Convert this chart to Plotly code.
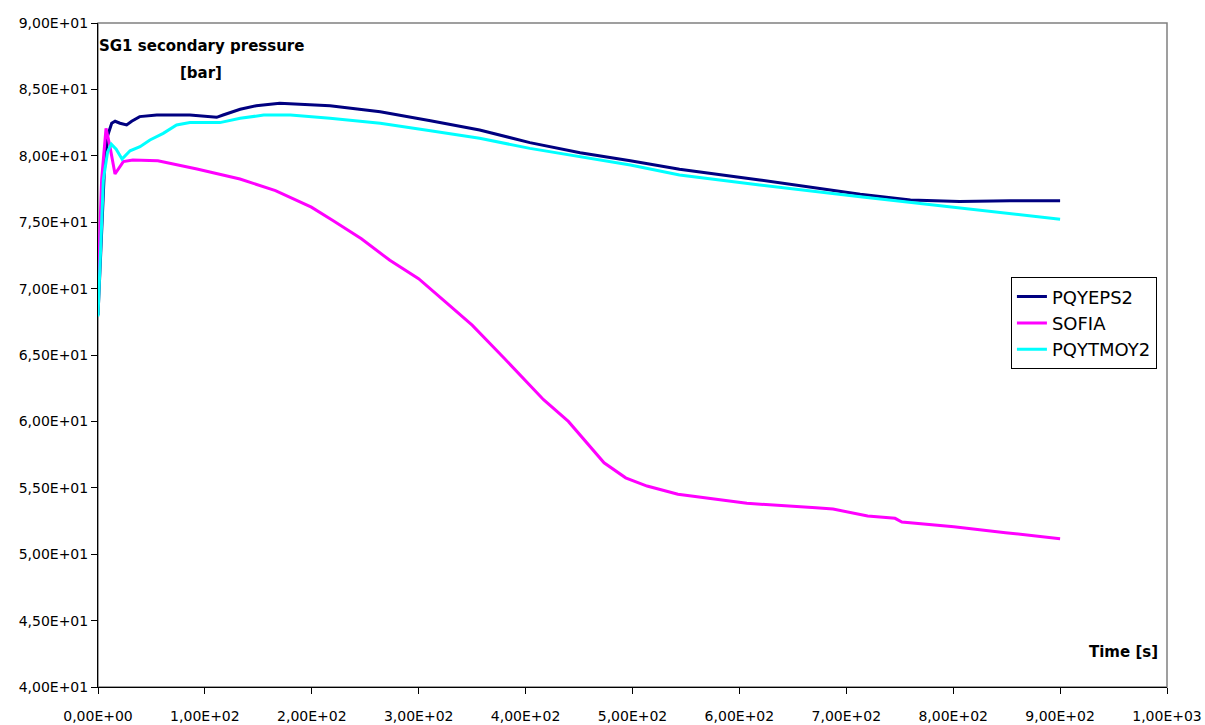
import plotly.graph_objects as go

# ---- data ----
t_pqyeps2 = [0, 3, 6, 9, 12.8, 16, 20.6, 26.8, 31.5, 39, 55, 86, 111, 117, 133, 148, 170,
             217, 264, 311, 357, 404, 451, 498, 544, 619, 713, 760, 806, 853, 900]
v_pqyeps2 = [68.0, 74.0, 79.0, 81.5, 82.45, 82.6, 82.45, 82.32, 82.6, 82.95, 83.07, 83.07, 82.9,
             83.07, 83.5, 83.77, 83.95, 83.77, 83.32, 82.64, 81.94, 80.99, 80.23, 79.63,
             78.98, 78.18, 77.1, 76.67, 76.55, 76.62, 76.62]

t_sofia = [0, 3.4, 7.5, 11.2, 15.9, 23.7, 32.6, 56, 92.6, 132.8, 166, 199.6, 219.7, 246.4,
           273, 299.9, 326.6, 350, 380, 416.8, 440, 458, 473.4, 493.6, 513.6, 542.5, 607, 671.6,
           687.6, 720, 745.6, 752, 800.6, 849, 900]
v_sofia = [70.3, 78.2, 82.07, 80.69, 78.63, 79.56, 79.68, 79.63, 79.0, 78.25, 77.38, 76.13,
           75.13, 73.75, 72.13, 70.75, 68.88, 67.25, 64.75, 61.63, 60.0, 58.3, 56.88, 55.75,
           55.13, 54.51, 53.83, 53.5, 53.4, 52.88, 52.7, 52.42, 52.07, 51.62, 51.17]

t_pqytmoy2 = [0, 5, 9, 12.4, 17, 22.5, 30, 39.3, 48.6, 61, 73.5, 86, 114, 133, 155, 180, 217,
              264, 311, 357, 404, 451, 498, 544, 619, 713, 760, 806, 853, 900]
v_pqytmoy2 = [67.9, 78.2, 80.3, 80.88, 80.5, 79.75, 80.38, 80.69, 81.19, 81.69, 82.32, 82.5,
              82.5, 82.82, 83.07, 83.07, 82.82, 82.45, 81.89, 81.32, 80.56, 79.93, 79.31,
              78.55, 77.8, 76.92, 76.5, 76.05, 75.67, 75.22]

x_ticks = [0, 100, 200, 300, 400, 500, 600, 700, 800, 900, 1000]
x_tick_text = ["0,00E+00", "1,00E+02", "2,00E+02", "3,00E+02", "4,00E+02", "5,00E+02",
               "6,00E+02", "7,00E+02", "8,00E+02", "9,00E+02", "1,00E+03"]
y_ticks = [40, 45, 50, 55, 60, 65, 70, 75, 80, 85, 90]
y_tick_text = ["4,00E+01", "4,50E+01", "5,00E+01", "5,50E+01", "6,00E+01", "6,50E+01",
               "7,00E+01", "7,50E+01", "8,00E+01", "8,50E+01", "9,00E+01"]

FONT = "DejaVu Sans"

fig = go.Figure()
fig.add_trace(go.Scatter(x=t_pqyeps2, y=v_pqyeps2, mode="lines", name="PQYEPS2",
                         line=dict(color="#000080", width=3), legendgroup="a"))
fig.add_trace(go.Scatter(x=t_sofia, y=v_sofia, mode="lines", name="SOFIA",
                         line=dict(color="#FF00FF", width=3), legendgroup="b"))
fig.add_trace(go.Scatter(x=t_pqytmoy2, y=v_pqytmoy2, mode="lines", name="PQYTMOY2",
                         line=dict(color="#00FFFF", width=3), legendgroup="c"))

fig.update_layout(
    width=1205, height=725,
    margin=dict(l=98, r=38, t=23, b=38, autoexpand=False),
    paper_bgcolor="white", plot_bgcolor="white",
    font=dict(family=FONT, size=14, color="black"),
    showlegend=True,
    legend=dict(x=0.854, y=0.617, xanchor="left", yanchor="top",
                bordercolor="black", borderwidth=1, bgcolor="white",
                font=dict(family=FONT, size=18, color="black"),
                tracegroupgap=8, traceorder="normal", itemwidth=30),
    xaxis=dict(range=[0, 1000], tickvals=x_ticks, ticktext=x_tick_text, automargin=False,
               showgrid=False, zeroline=False, showline=True, linecolor="black",
               linewidth=1, ticks="outside", ticklen=6, tickcolor="black",
               ticklabelstandoff=10,
               tickfont=dict(family=FONT, size=14)),
    yaxis=dict(range=[40, 90], tickvals=y_ticks, ticktext=y_tick_text, automargin=False,
               showgrid=False, zeroline=False, showline=True, linecolor="black",
               linewidth=1, ticks="outside", ticklen=6, tickcolor="black",
               tickfont=dict(family=FONT, size=14)),
    shapes=[dict(type="rect", xref="paper", yref="paper", x0=0, y0=0, x1=1, y1=1,
                 line=dict(color="#808080", width=1.5), layer="below")],
    annotations=[
        dict(text="<b>SG1 secondary pressure</b>", xref="paper", yref="paper",
             x=0.0964, y=0.965, xanchor="center", yanchor="middle", showarrow=False,
             font=dict(family=FONT, size=15, color="black")),
        dict(text="<b>[bar]</b>", xref="paper", yref="paper",
             x=0.0964, y=0.925, xanchor="center", yanchor="middle", showarrow=False,
             font=dict(family=FONT, size=15, color="black")),
        dict(text="<b>Time [s]</b>", xref="paper", yref="paper",
             x=0.9935, y=0.0527, xanchor="right", yanchor="middle", showarrow=False,
             font=dict(family=FONT, size=15, color="black")),
    ],
)

fig.write_html("out.html", config={"displayModeBar": False},
               post_script="document.body.style.margin='0';document.body.style.overflow='hidden';")
